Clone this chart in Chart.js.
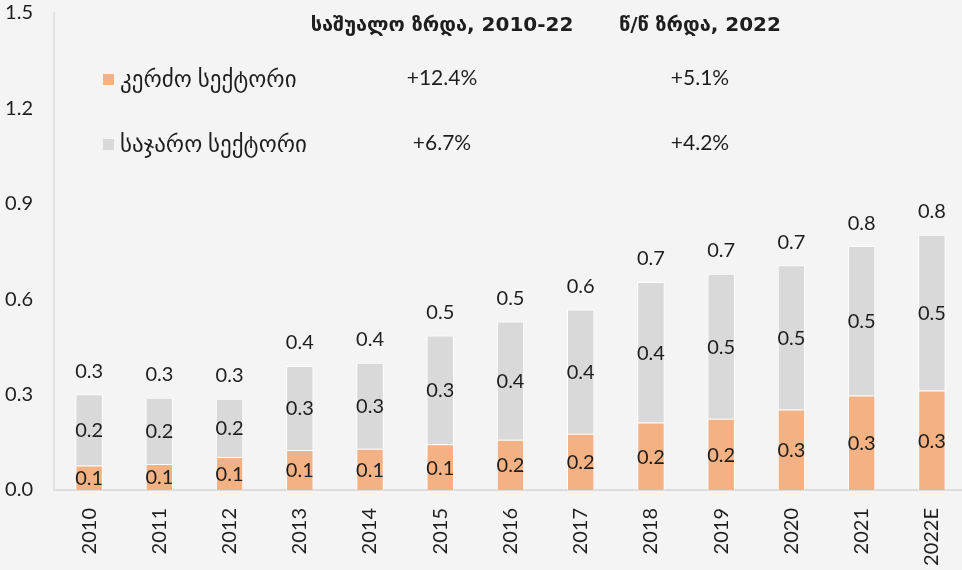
<!DOCTYPE html>
<html>
<head>
<meta charset="utf-8">
<script src="https://cdn.jsdelivr.net/npm/chart.js@4/dist/chart.umd.min.js"></script>
<style>
    html, body { margin: 0; padding: 0; background: #f4f4f4; overflow: hidden; }
    #wrap { position: absolute; left: 0; top: -12px; width: 968px; height: 582px; }
</style>
</head>
<body>
<div id="wrap"><canvas id="chart"></canvas></div>
<script>
//================================
// Data
//================================
const years = ["2010","2011","2012","2013","2014","2015","2016","2017","2018","2019","2020","2021","2022E"];
const privateSector = [0.077,0.082,0.104,0.126,0.130,0.144,0.158,0.177,0.212,0.224,0.253,0.297,0.313];
const publicSector  = [0.224,0.208,0.183,0.264,0.270,0.342,0.372,0.391,0.442,0.456,0.454,0.470,0.490];
const yTicks = [0.0,0.3,0.6,0.9,1.2,1.5];

const seriesNames = ["კერძო სექტორი","საჯარო სექტორი"];
const tableHeaders = ["საშუალო ზრდა, 2010-22","წ/წ ზრდა, 2022"];
const avgGrowth = ["+12.4%","+6.7%"];
const yoyGrowth = ["+5.1%","+4.2%"];

const ORANGE = "#f4b183";
const GREY = "#d9d9d9";
const TEXT = "#1e1e1e";
const FONT = "Lato, 'DejaVu Sans', sans-serif";

//================================
// Value labels (segments + totals)
//================================
const valueLabels = {
    id: "valueLabels",
    afterDatasetsDraw(chart) {
        const ctx = chart.ctx;
        ctx.save();
        ctx.font = "20px " + FONT;
        ctx.fillStyle = TEXT;
        ctx.textAlign = "center";
        ctx.textBaseline = "middle";
        let tops = [];
        chart.data.datasets.forEach((ds,di) => {
            chart.getDatasetMeta(di).data.forEach((bar,i) => {
                ctx.fillText(ds.data[i].toFixed(1), bar.x, (bar.y + bar.base)/2 + 1);
                tops[i] = bar.y;
            });
        });
        //totals above the stacks
        const meta = chart.getDatasetMeta(0);
        meta.data.forEach((bar,i) => {
            let total = privateSector[i] + publicSector[i];
            ctx.fillText(total.toFixed(1), bar.x, tops[i] - 23);
        });
        ctx.restore();
    }
};

//================================
// Legend / growth table at the top
//================================
const growthTable = {
    id: "growthTable",
    afterDraw(chart) {
        const ctx = chart.ctx;
        const colors = [ORANGE, GREY];
        //page y + 12 because the canvas is shifted up
        const rowY = [92, 157];
        const col1 = 442, col2 = 700;
        ctx.save();
        ctx.fillStyle = TEXT;
        ctx.textBaseline = "middle";
        ctx.textAlign = "center";
        ctx.font = "bold 20px 'DejaVu Sans', sans-serif";
        ctx.fillText(tableHeaders[0], col1, 38);
        ctx.fillText(tableHeaders[1], col2, 38);

        for(let r = 0; r < 2; r++) {
            ctx.fillStyle = colors[r];
            ctx.fillRect(103, rowY[r] - 6, 11, 11);
            ctx.fillStyle = TEXT;
            ctx.textAlign = "left";
            ctx.font = "23px " + FONT;
            ctx.fillText(seriesNames[r], 120, rowY[r]);
            ctx.textAlign = "center";
            ctx.font = "21px " + FONT;
            ctx.fillText(avgGrowth[r], col1, rowY[r] - 2);
            ctx.fillText(yoyGrowth[r], col2, rowY[r] - 2);
        }
        ctx.restore();
    }
};

//================================
// Chart
//================================
new Chart(document.getElementById("chart"), {
    type: "bar",
    data: {
        labels: years,
        datasets: [
            { label: seriesNames[0], data: privateSector, backgroundColor: ORANGE, borderColor: "#ffffff", borderWidth: 1 },
            { label: seriesNames[1], data: publicSector, backgroundColor: GREY, borderColor: "#ffffff", borderWidth: 1 }
        ]
    },
    options: {
        responsive: true,
        maintainAspectRatio: false,
        animation: false,
        categoryPercentage: 1,
        barPercentage: 0.39,
        layout: { padding: { top: 10, right: 1, bottom: 0, left: 0 } },
        plugins: {
            legend: { display: false },
            tooltip: { enabled: false }
        },
        scales: {
            x: {
                stacked: true,
                grid: { display: false },
                border: { display: true, color: "#dcdcdc", width: 2 },
                afterFit: (axis) => { axis.height = 80; },
                ticks: {
                    color: TEXT,
                    font: { family: FONT, size: 20 },
                    maxRotation: 90, minRotation: 90,
                    padding: 10
                }
            },
            y: {
                stacked: true,
                min: 0, max: 1.5,
                afterBuildTicks: (axis) => { axis.ticks = yTicks.map(v => ({ value: v })); },
                afterFit: (axis) => { axis.width = 54; },
                grid: { display: false },
                border: { display: true, color: "#e2e2e2", width: 2 },
                ticks: {
                    color: TEXT,
                    font: { family: FONT, size: 20 },
                    padding: 13,
                    callback: (v) => Number(v).toFixed(1)
                }
            }
        }
    },
    plugins: [valueLabels, growthTable]
});
</script>
</body>
</html>
